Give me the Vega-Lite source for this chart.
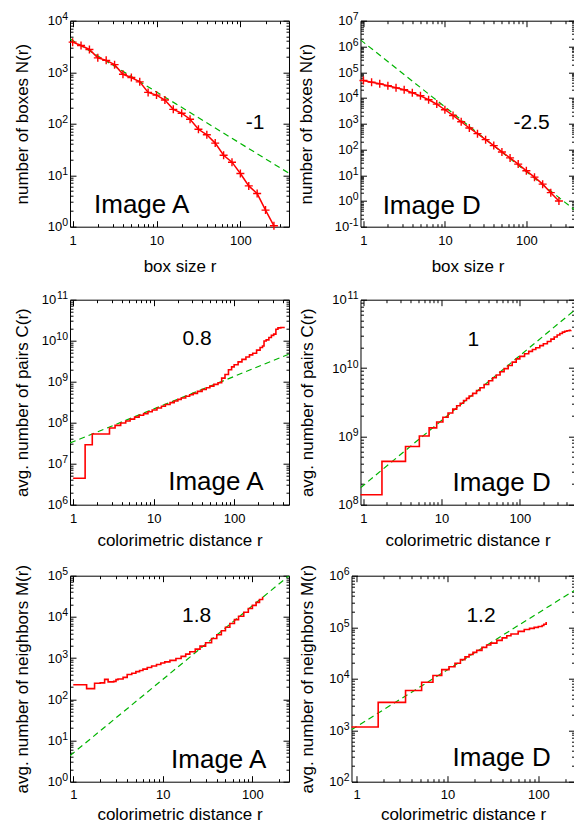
{
  "$schema": "https://vega.github.io/schema/vega-lite/v6.json",
  "background": "white",
  "padding": {"left": 13, "top": 10.7, "right": 0, "bottom": 0},
  "config": {
    "font": "Liberation Sans",
    "view": {"stroke": "black", "strokeWidth": 1},
    "axis": {"domain": false, "grid": false, "labelFontSize": 13, "titleFontSize": 17, "labelColor": "black", "titleColor": "black", "titleFontWeight": "normal", "tickColor": "black", "labelOverlap": false, "labelFlush": false, "labelFont": "Liberation Sans", "titleFont": "Liberation Sans", "titlePadding": 0},
    "text": {"font": "Liberation Sans", "color": "black"}
  },
  "datasets": {
    "p1r": [{"r":1,"v":3830},{"r":1.259,"v":3300},{"r":1.585,"v":2760},{"r":1.995,"v":1900},{"r":2.512,"v":1700},{"r":3.162,"v":1400},{"r":3.981,"v":910},{"r":5.012,"v":790},{"r":6.31,"v":650},{"r":7.943,"v":405},{"r":10,"v":359},{"r":12.59,"v":288},{"r":15.85,"v":190},{"r":19.95,"v":160},{"r":25.12,"v":122},{"r":31.62,"v":78},{"r":39.81,"v":61},{"r":50.12,"v":42},{"r":63.1,"v":24.4},{"r":79.43,"v":17.9},{"r":100,"v":10.8},{"r":125.9,"v":6.2},{"r":158.5,"v":4.4},{"r":199.5,"v":2.1},{"r":251.2,"v":1.04}],
    "p1g": [{"r":0.93,"v":4440},{"r":380,"v":10.9}],
    "p2r": [{"r":1,"v":47900},{"r":1.259,"v":41000},{"r":1.585,"v":35300},{"r":1.995,"v":29700},{"r":2.512,"v":24700},{"r":3.162,"v":20700},{"r":3.981,"v":15900},{"r":5.012,"v":12100},{"r":6.31,"v":8500},{"r":7.943,"v":5780},{"r":10,"v":3480},{"r":12.59,"v":2090},{"r":15.85,"v":1190},{"r":19.95,"v":680},{"r":25.12,"v":410},{"r":31.62,"v":240},{"r":39.81,"v":141},{"r":50.12,"v":80},{"r":63.1,"v":47},{"r":79.43,"v":27},{"r":100,"v":14.8},{"r":125.9,"v":8.4},{"r":158.5,"v":4.5},{"r":199.5,"v":2.1},{"r":251.2,"v":1.0}],
    "p2g": [{"r":0.92,"v":1800000},{"r":390,"v":0.45}],
    "p3r": [{"r":1.0,"v":4.4e6},{"r":1.41,"v":2.9e7},{"r":1.73,"v":5.3e7},{"r":2.83,"v":7.4e7},{"r":3.32,"v":8.6e7},{"r":3.9,"v":9.8e7},{"r":4.5,"v":1.1e8},{"r":5.1,"v":1.22e8},{"r":5.8,"v":1.37e8},{"r":6.6,"v":1.52e8},{"r":7.5,"v":1.66e8},{"r":8.5,"v":1.85e8},{"r":9.6,"v":2.04e8},{"r":11,"v":2.28e8},{"r":12.5,"v":2.52e8},{"r":14,"v":2.77e8},{"r":16,"v":3.08e8},{"r":18,"v":3.38e8},{"r":20,"v":3.7e8},{"r":22,"v":4.0e8},{"r":25,"v":4.4e8},{"r":28,"v":4.8e8},{"r":31,"v":5.2e8},{"r":35,"v":5.8e8},{"r":40,"v":6.45e8},{"r":45,"v":7.1e8},{"r":50,"v":7.8e8},{"r":56,"v":8.6e8},{"r":63,"v":9.4e8},{"r":70,"v":1.22e9},{"r":77,"v":1.5e9},{"r":85,"v":1.95e9},{"r":93,"v":2.3e9},{"r":100,"v":2.6e9},{"r":112,"v":3.05e9},{"r":125,"v":3.5e9},{"r":140,"v":4.0e9},{"r":155,"v":4.5e9},{"r":170,"v":4.95e9},{"r":190,"v":5.9e9},{"r":210,"v":6.8e9},{"r":225,"v":7.4e9},{"r":235,"v":9.8e9},{"r":250,"v":1.05e10},{"r":270,"v":1.2e10},{"r":290,"v":1.35e10},{"r":310,"v":1.45e10},{"r":330,"v":1.9e10},{"r":350,"v":2.05e10},{"r":380,"v":2.1e10},{"r":425,"v":2.1e10}],
    "p3g": [{"r":0.915,"v":3.2e7},{"r":480,"v":4.7e9}],
    "p4r": [{"r":0.92,"v":1.4e8},{"r":1.73,"v":4.3e8},{"r":3.46,"v":7.1e8},{"r":5.2,"v":1.01e9},{"r":6.93,"v":1.33e9},{"r":8.66,"v":1.62e9},{"r":10.4,"v":1.9e9},{"r":12.1,"v":2.2e9},{"r":13.9,"v":2.5e9},{"r":15.6,"v":2.8e9},{"r":17.3,"v":3.05e9},{"r":19.1,"v":3.35e9},{"r":20.8,"v":3.6e9},{"r":22.5,"v":3.9e9},{"r":25,"v":4.25e9},{"r":28,"v":4.7e9},{"r":31,"v":5.15e9},{"r":35,"v":5.75e9},{"r":40,"v":6.5e9},{"r":45,"v":7.2e9},{"r":50,"v":7.9e9},{"r":56,"v":8.8e9},{"r":63,"v":9.8e9},{"r":71,"v":1.09e10},{"r":80,"v":1.22e10},{"r":90,"v":1.36e10},{"r":100,"v":1.48e10},{"r":115,"v":1.62e10},{"r":130,"v":1.75e10},{"r":145,"v":1.87e10},{"r":160,"v":1.98e10},{"r":180,"v":2.13e10},{"r":200,"v":2.27e10},{"r":225,"v":2.45e10},{"r":250,"v":2.65e10},{"r":275,"v":2.85e10},{"r":300,"v":3.05e10},{"r":325,"v":3.2e10},{"r":350,"v":3.35e10},{"r":375,"v":3.45e10},{"r":400,"v":3.52e10},{"r":430,"v":3.56e10},{"r":450,"v":3.57e10}],
    "p4g": [{"r":0.92,"v":1.77e8},{"r":500,"v":7.0e10}],
    "p5r": [{"r":1.0,"v":226},{"r":1.41,"v":181},{"r":1.73,"v":245},{"r":2.0,"v":250},{"r":2.24,"v":305},{"r":2.45,"v":265},{"r":2.83,"v":272},{"r":3.0,"v":300},{"r":3.16,"v":310},{"r":3.6,"v":340},{"r":4.0,"v":400},{"r":4.5,"v":430},{"r":5.0,"v":470},{"r":5.5,"v":500},{"r":6.0,"v":540},{"r":6.7,"v":590},{"r":7.5,"v":640},{"r":8.5,"v":700},{"r":9.5,"v":760},{"r":10.5,"v":810},{"r":12,"v":880},{"r":14,"v":980},{"r":16,"v":1100},{"r":18,"v":1250},{"r":20,"v":1420},{"r":23,"v":1650},{"r":26,"v":1950},{"r":30,"v":2350},{"r":35,"v":3000},{"r":40,"v":3700},{"r":45,"v":4600},{"r":50,"v":5600},{"r":56,"v":6900},{"r":63,"v":8600},{"r":70,"v":10400},{"r":80,"v":13000},{"r":90,"v":16000},{"r":100,"v":19000},{"r":110,"v":22500},{"r":120,"v":26500},{"r":130,"v":31000}],
    "p5g": [{"r":0.92,"v":4.28},{"r":256,"v":100000}],
    "p6r": [{"r":0.88,"v":1150},{"r":1.73,"v":3470},{"r":3.46,"v":5900},{"r":5.2,"v":8500},{"r":6.93,"v":11500},{"r":8.66,"v":15000},{"r":10.4,"v":17000},{"r":12.1,"v":20000},{"r":13.9,"v":23500},{"r":15.6,"v":26500},{"r":17.3,"v":29500},{"r":19.1,"v":32500},{"r":21,"v":35500},{"r":24,"v":40500},{"r":27,"v":45000},{"r":30,"v":49000},{"r":35,"v":55500},{"r":40,"v":62000},{"r":45,"v":68000},{"r":50,"v":74000},{"r":60,"v":83000},{"r":70,"v":90000},{"r":80,"v":95000},{"r":90,"v":99000},{"r":100,"v":103000},{"r":110,"v":108000},{"r":115,"v":114000},{"r":122,"v":126000}],
    "p6g": [{"r":0.88,"v":1020},{"r":250,"v":519000}]
  },
  "vconcat": [
    {
      "hconcat": [
        {
          "width": 219, "height": 206,
          "layer": [
            {"data": {"name": "p1g"}, "mark": {"type": "line", "color": "#00b400", "strokeDash": [6, 4], "strokeWidth": 1.2, "clip": true},
             "encoding": {
              "x": {"field": "r", "type": "quantitative", "scale": {"type": "log", "domain": [0.93, 380], "nice": false},
                    "axis": {"title": "box size r", "orient": "bottom", "values": [1,2,3,4,5,6,7,8,9,10,20,30,40,50,60,70,80,90,100,200,300], "labelExpr": "abs(log(datum.value)/LN10-round(log(datum.value)/LN10))<0.001 ? format(datum.value,'d') : ''", "tickSize": {"condition": {"test": "abs(log(datum.value)/LN10-round(log(datum.value)/LN10))<0.001", "value": -6}, "value": -3}, "labelPadding": 14, "minExtent": 32, "maxExtent": 32}},
              "y": {"field": "v", "type": "quantitative", "scale": {"type": "log", "domain": [1, 10000], "nice": false},
                    "axis": {"title": "number of boxes N(r)", "orient": "left", "values": [1,2,3,4,5,6,7,8,9,10,20,30,40,50,60,70,80,90,100,200,300,400,500,600,700,800,900,1000,2000,3000,4000,5000,6000,7000,8000,9000,10000], "labelExpr": "abs(log(datum.value)/LN10-round(log(datum.value)/LN10))<0.001 ? '10' : ''", "tickSize": {"condition": {"test": "abs(log(datum.value)/LN10-round(log(datum.value)/LN10))<0.001", "value": -6}, "value": -3}, "labelPadding": {"condition": [{"test": "round(log(datum.value)/LN10) >= 10", "value": 20.2}, {"test": "round(log(datum.value)/LN10) < 0", "value": 17.8}], "value": 14.3}, "minExtent": 38.5, "maxExtent": 38.5}}
             }},
            {"data": {"name": "p1r"}, "mark": {"type": "line", "color": "#ff0000", "strokeWidth": 1.5, "point": {"shape": "M-1,0L1,0M0,-1L0,1", "filled": false, "size": 64, "strokeWidth": 1.4, "color": "#ff0000"}},
             "encoding": {
              "x": {"field": "r", "type": "quantitative", "scale": {"type": "log", "domain": [0.93, 380], "nice": false},
                    "axis": {"orient": "top", "title": null, "labels": false, "values": [1,2,3,4,5,6,7,8,9,10,20,30,40,50,60,70,80,90,100,200,300], "tickSize": {"condition": {"test": "abs(log(datum.value)/LN10-round(log(datum.value)/LN10))<0.001", "value": -6}, "value": -3}}},
              "y": {"field": "v", "type": "quantitative", "scale": {"type": "log", "domain": [1, 10000], "nice": false},
                    "axis": {"orient": "right", "title": null, "labels": false, "values": [1,2,3,4,5,6,7,8,9,10,20,30,40,50,60,70,80,90,100,200,300,400,500,600,700,800,900,1000,2000,3000,4000,5000,6000,7000,8000,9000,10000], "tickSize": {"condition": {"test": "abs(log(datum.value)/LN10-round(log(datum.value)/LN10))<0.001", "value": -6}, "value": -3}}}
             }},
            {"data": {"name": "p1g"}, "mark": {"type": "line", "opacity": 0},
             "encoding": {
              "x": {"field": "r", "type": "quantitative", "scale": {"type": "log", "domain": [0.93, 380], "nice": false}, "axis": null},
              "y": {"field": "v", "type": "quantitative", "scale": {"type": "log", "domain": [1, 10000], "nice": false},
                    "axis": {"orient": "left", "title": null, "values": [1,10,100,1000,10000], "labelExpr": "'' + round(log(datum.value)/LN10)", "ticks": false, "tickSize": 0, "labelFontSize": 10.5, "labelAlign": "right", "labelBaseline": "alphabetic", "labelPadding": 2.5, "labelOffset": -1}}
             }},
            {"data": {"values": [{"t": "-1"}]}, "mark": {"type": "text", "fontSize": 21, "align": "center", "baseline": "middle"},
             "encoding": {"text": {"field": "t"}, "x": {"datum": 150, "type": "quantitative", "axis": null}, "y": {"datum": 105, "type": "quantitative", "axis": null}}},
            {"data": {"values": [{"t": "Image A"}]}, "mark": {"type": "text", "fontSize": 26, "align": "center", "baseline": "alphabetic"},
             "encoding": {"text": {"field": "t"}, "x": {"datum": 6.66, "type": "quantitative", "axis": null}, "y": {"datum": 1.81, "type": "quantitative", "axis": null}}}
          ],
          "resolve": {"axis": {"x": "independent", "y": "independent"}}
        },
        {
          "width": 214, "height": 206,
          "layer": [
            {"data": {"name": "p2g"}, "mark": {"type": "line", "color": "#00b400", "strokeDash": [6, 4], "strokeWidth": 1.2, "clip": true},
             "encoding": {
              "x": {"field": "r", "type": "quantitative", "scale": {"type": "log", "domain": [0.92, 390], "nice": false},
                    "axis": {"title": "box size r", "orient": "bottom", "values": [1,2,3,4,5,6,7,8,9,10,20,30,40,50,60,70,80,90,100,200,300], "labelExpr": "abs(log(datum.value)/LN10-round(log(datum.value)/LN10))<0.001 ? format(datum.value,'d') : ''", "tickSize": {"condition": {"test": "abs(log(datum.value)/LN10-round(log(datum.value)/LN10))<0.001", "value": -6}, "value": -3}, "labelPadding": 14, "minExtent": 32, "maxExtent": 32}},
              "y": {"field": "v", "type": "quantitative", "scale": {"type": "log", "domain": [0.1, 10000000], "nice": false},
                    "axis": {"title": "number of boxes N(r)", "orient": "left", "values": [0.1,0.2,0.3,0.4,0.5,0.6,0.7,0.8,0.9,1,2,3,4,5,6,7,8,9,10,20,30,40,50,60,70,80,90,100,200,300,400,500,600,700,800,900,1000,2000,3000,4000,5000,6000,7000,8000,9000,1e4,2e4,3e4,4e4,5e4,6e4,7e4,8e4,9e4,1e5,2e5,3e5,4e5,5e5,6e5,7e5,8e5,9e5,1e6,2e6,3e6,4e6,5e6,6e6,7e6,8e6,9e6,1e7], "labelExpr": "abs(log(datum.value)/LN10-round(log(datum.value)/LN10))<0.001 ? '10' : ''", "tickSize": {"condition": {"test": "abs(log(datum.value)/LN10-round(log(datum.value)/LN10))<0.001", "value": -6}, "value": -3}, "labelPadding": {"condition": [{"test": "round(log(datum.value)/LN10) >= 10", "value": 20.2}, {"test": "round(log(datum.value)/LN10) < 0", "value": 17.8}], "value": 14.3}, "minExtent": 45, "maxExtent": 45}}
             }},
            {"data": {"name": "p2r"}, "mark": {"type": "line", "color": "#ff0000", "strokeWidth": 1.5, "point": {"shape": "M-1,0L1,0M0,-1L0,1", "filled": false, "size": 64, "strokeWidth": 1.4, "color": "#ff0000"}},
             "encoding": {
              "x": {"field": "r", "type": "quantitative", "scale": {"type": "log", "domain": [0.92, 390], "nice": false},
                    "axis": {"orient": "top", "title": null, "labels": false, "values": [1,2,3,4,5,6,7,8,9,10,20,30,40,50,60,70,80,90,100,200,300], "tickSize": {"condition": {"test": "abs(log(datum.value)/LN10-round(log(datum.value)/LN10))<0.001", "value": -6}, "value": -3}}},
              "y": {"field": "v", "type": "quantitative", "scale": {"type": "log", "domain": [0.1, 10000000], "nice": false},
                    "axis": {"orient": "right", "title": null, "labels": false, "values": [0.1,0.2,0.3,0.4,0.5,0.6,0.7,0.8,0.9,1,2,3,4,5,6,7,8,9,10,20,30,40,50,60,70,80,90,100,200,300,400,500,600,700,800,900,1000,2000,3000,4000,5000,6000,7000,8000,9000,1e4,2e4,3e4,4e4,5e4,6e4,7e4,8e4,9e4,1e5,2e5,3e5,4e5,5e5,6e5,7e5,8e5,9e5,1e6,2e6,3e6,4e6,5e6,6e6,7e6,8e6,9e6,1e7], "tickSize": {"condition": {"test": "abs(log(datum.value)/LN10-round(log(datum.value)/LN10))<0.001", "value": -6}, "value": -3}}}
             }},
            {"data": {"name": "p2g"}, "mark": {"type": "line", "opacity": 0},
             "encoding": {
              "x": {"field": "r", "type": "quantitative", "scale": {"type": "log", "domain": [0.92, 390], "nice": false}, "axis": null},
              "y": {"field": "v", "type": "quantitative", "scale": {"type": "log", "domain": [0.1, 10000000], "nice": false},
                    "axis": {"orient": "left", "title": null, "values": [0.1,1,10,100,1000,1e4,1e5,1e6,1e7], "labelExpr": "'' + round(log(datum.value)/LN10)", "ticks": false, "tickSize": 0, "labelFontSize": 10.5, "labelAlign": "right", "labelBaseline": "alphabetic", "labelPadding": 2.5, "labelOffset": -1}}
             }},
            {"data": {"values": [{"t": "-2.5"}]}, "mark": {"type": "text", "fontSize": 21, "align": "center", "baseline": "middle"},
             "encoding": {"text": {"field": "t"}, "x": {"datum": 116, "type": "quantitative", "axis": null}, "y": {"datum": 1070, "type": "quantitative", "axis": null}}},
            {"data": {"values": [{"t": "Image D"}]}, "mark": {"type": "text", "fontSize": 26, "align": "center", "baseline": "alphabetic"},
             "encoding": {"text": {"field": "t"}, "x": {"datum": 6.89, "type": "quantitative", "axis": null}, "y": {"datum": 0.325, "type": "quantitative", "axis": null}}}
          ],
          "resolve": {"axis": {"x": "independent", "y": "independent"}}
        }
      ],
      "spacing": 6.5
    },
    {
      "hconcat": [
        {
          "width": 219, "height": 205,
          "layer": [
            {"data": {"name": "p3g"}, "mark": {"type": "line", "color": "#00b400", "strokeDash": [6, 4], "strokeWidth": 1.2, "clip": true},
             "encoding": {
              "x": {"field": "r", "type": "quantitative", "scale": {"type": "log", "domain": [0.915, 480], "nice": false},
                    "axis": {"title": "colorimetric distance r", "orient": "bottom", "values": [1,2,3,4,5,6,7,8,9,10,20,30,40,50,60,70,80,90,100,200,300,400], "labelExpr": "abs(log(datum.value)/LN10-round(log(datum.value)/LN10))<0.001 ? format(datum.value,'d') : ''", "tickSize": {"condition": {"test": "abs(log(datum.value)/LN10-round(log(datum.value)/LN10))<0.001", "value": -6}, "value": -3}, "labelPadding": 13.5, "minExtent": 28, "maxExtent": 28}},
              "y": {"field": "v", "type": "quantitative", "scale": {"type": "log", "domain": [1e6, 1e11], "nice": false},
                    "axis": {"title": "avg. number of pairs C(r)", "orient": "left", "values": [1e6,2e6,3e6,4e6,5e6,6e6,7e6,8e6,9e6,1e7,2e7,3e7,4e7,5e7,6e7,7e7,8e7,9e7,1e8,2e8,3e8,4e8,5e8,6e8,7e8,8e8,9e8,1e9,2e9,3e9,4e9,5e9,6e9,7e9,8e9,9e9,1e10,2e10,3e10,4e10,5e10,6e10,7e10,8e10,9e10,1e11], "labelExpr": "abs(log(datum.value)/LN10-round(log(datum.value)/LN10))<0.001 ? '10' : ''", "tickSize": {"condition": {"test": "abs(log(datum.value)/LN10-round(log(datum.value)/LN10))<0.001", "value": -6}, "value": -3}, "labelPadding": {"condition": [{"test": "round(log(datum.value)/LN10) >= 10", "value": 20.2}, {"test": "round(log(datum.value)/LN10) < 0", "value": 17.8}], "value": 14.3}, "minExtent": 38.5, "maxExtent": 38.5}}
             }},
            {"data": {"name": "p3r"}, "mark": {"type": "line", "color": "#ff0000", "strokeWidth": 1.6, "interpolate": "step-after"},
             "encoding": {
              "x": {"field": "r", "type": "quantitative", "scale": {"type": "log", "domain": [0.915, 480], "nice": false},
                    "axis": {"orient": "top", "title": null, "labels": false, "values": [1,2,3,4,5,6,7,8,9,10,20,30,40,50,60,70,80,90,100,200,300,400], "tickSize": {"condition": {"test": "abs(log(datum.value)/LN10-round(log(datum.value)/LN10))<0.001", "value": -6}, "value": -3}}},
              "y": {"field": "v", "type": "quantitative", "scale": {"type": "log", "domain": [1e6, 1e11], "nice": false},
                    "axis": {"orient": "right", "title": null, "labels": false, "values": [1e6,2e6,3e6,4e6,5e6,6e6,7e6,8e6,9e6,1e7,2e7,3e7,4e7,5e7,6e7,7e7,8e7,9e7,1e8,2e8,3e8,4e8,5e8,6e8,7e8,8e8,9e8,1e9,2e9,3e9,4e9,5e9,6e9,7e9,8e9,9e9,1e10,2e10,3e10,4e10,5e10,6e10,7e10,8e10,9e10,1e11], "tickSize": {"condition": {"test": "abs(log(datum.value)/LN10-round(log(datum.value)/LN10))<0.001", "value": -6}, "value": -3}}}
             }},
            {"data": {"name": "p3g"}, "mark": {"type": "line", "opacity": 0},
             "encoding": {
              "x": {"field": "r", "type": "quantitative", "scale": {"type": "log", "domain": [0.915, 480], "nice": false}, "axis": null},
              "y": {"field": "v", "type": "quantitative", "scale": {"type": "log", "domain": [1e6, 1e11], "nice": false},
                    "axis": {"orient": "left", "title": null, "values": [1e6,1e7,1e8,1e9,1e10,1e11], "labelExpr": "'' + round(log(datum.value)/LN10)", "ticks": false, "tickSize": 0, "labelFontSize": 10.5, "labelAlign": "right", "labelBaseline": "alphabetic", "labelPadding": 2.5, "labelOffset": -1}}
             }},
            {"data": {"values": [{"t": "0.8"}]}, "mark": {"type": "text", "fontSize": 21, "align": "center", "baseline": "middle"},
             "encoding": {"text": {"field": "t"}, "x": {"datum": 34.7, "type": "quantitative", "axis": null}, "y": {"datum": 1.11e10, "type": "quantitative", "axis": null}}},
            {"data": {"values": [{"t": "Image A"}]}, "mark": {"type": "text", "fontSize": 26, "align": "center", "baseline": "alphabetic"},
             "encoding": {"text": {"field": "t"}, "x": {"datum": 59.3, "type": "quantitative", "axis": null}, "y": {"datum": 2.24e6, "type": "quantitative", "axis": null}}}
          ],
          "resolve": {"axis": {"x": "independent", "y": "independent"}}
        },
        {
          "width": 214, "height": 205,
          "layer": [
            {"data": {"name": "p4g"}, "mark": {"type": "line", "color": "#00b400", "strokeDash": [6, 4], "strokeWidth": 1.2, "clip": true},
             "encoding": {
              "x": {"field": "r", "type": "quantitative", "scale": {"type": "log", "domain": [0.92, 500], "nice": false},
                    "axis": {"title": "colorimetric distance r", "orient": "bottom", "values": [1,2,3,4,5,6,7,8,9,10,20,30,40,50,60,70,80,90,100,200,300,400,500], "labelExpr": "abs(log(datum.value)/LN10-round(log(datum.value)/LN10))<0.001 ? format(datum.value,'d') : ''", "tickSize": {"condition": {"test": "abs(log(datum.value)/LN10-round(log(datum.value)/LN10))<0.001", "value": -6}, "value": -3}, "labelPadding": 13.5, "minExtent": 28, "maxExtent": 28}},
              "y": {"field": "v", "type": "quantitative", "scale": {"type": "log", "domain": [1e8, 1e11], "nice": false},
                    "axis": {"title": "avg. number of pairs C(r)", "orient": "left", "values": [1e8,2e8,3e8,4e8,5e8,6e8,7e8,8e8,9e8,1e9,2e9,3e9,4e9,5e9,6e9,7e9,8e9,9e9,1e10,2e10,3e10,4e10,5e10,6e10,7e10,8e10,9e10,1e11], "labelExpr": "abs(log(datum.value)/LN10-round(log(datum.value)/LN10))<0.001 ? '10' : ''", "tickSize": {"condition": {"test": "abs(log(datum.value)/LN10-round(log(datum.value)/LN10))<0.001", "value": -6}, "value": -3}, "labelPadding": {"condition": [{"test": "round(log(datum.value)/LN10) >= 10", "value": 20.2}, {"test": "round(log(datum.value)/LN10) < 0", "value": 17.8}], "value": 14.3}, "minExtent": 44, "maxExtent": 44}}
             }},
            {"data": {"name": "p4r"}, "mark": {"type": "line", "color": "#ff0000", "strokeWidth": 1.6, "interpolate": "step-after"},
             "encoding": {
              "x": {"field": "r", "type": "quantitative", "scale": {"type": "log", "domain": [0.92, 500], "nice": false},
                    "axis": {"orient": "top", "title": null, "labels": false, "values": [1,2,3,4,5,6,7,8,9,10,20,30,40,50,60,70,80,90,100,200,300,400,500], "tickSize": {"condition": {"test": "abs(log(datum.value)/LN10-round(log(datum.value)/LN10))<0.001", "value": -6}, "value": -3}}},
              "y": {"field": "v", "type": "quantitative", "scale": {"type": "log", "domain": [1e8, 1e11], "nice": false},
                    "axis": {"orient": "right", "title": null, "labels": false, "values": [1e8,2e8,3e8,4e8,5e8,6e8,7e8,8e8,9e8,1e9,2e9,3e9,4e9,5e9,6e9,7e9,8e9,9e9,1e10,2e10,3e10,4e10,5e10,6e10,7e10,8e10,9e10,1e11], "tickSize": {"condition": {"test": "abs(log(datum.value)/LN10-round(log(datum.value)/LN10))<0.001", "value": -6}, "value": -3}}}
             }},
            {"data": {"name": "p4g"}, "mark": {"type": "line", "opacity": 0},
             "encoding": {
              "x": {"field": "r", "type": "quantitative", "scale": {"type": "log", "domain": [0.92, 500], "nice": false}, "axis": null},
              "y": {"field": "v", "type": "quantitative", "scale": {"type": "log", "domain": [1e8, 1e11], "nice": false},
                    "axis": {"orient": "left", "title": null, "values": [1e8,1e9,1e10,1e11], "labelExpr": "'' + round(log(datum.value)/LN10)", "ticks": false, "tickSize": 0, "labelFontSize": 10.5, "labelAlign": "right", "labelBaseline": "alphabetic", "labelPadding": 2.5, "labelOffset": -1}}
             }},
            {"data": {"values": [{"t": "1"}]}, "mark": {"type": "text", "fontSize": 21, "align": "center", "baseline": "middle"},
             "encoding": {"text": {"field": "t"}, "x": {"datum": 25.4, "type": "quantitative", "axis": null}, "y": {"datum": 2.59e10, "type": "quantitative", "axis": null}}},
            {"data": {"values": [{"t": "Image D"}]}, "mark": {"type": "text", "fontSize": 26, "align": "center", "baseline": "alphabetic"},
             "encoding": {"text": {"field": "t"}, "x": {"datum": 58.4, "type": "quantitative", "axis": null}, "y": {"datum": 1.6e8, "type": "quantitative", "axis": null}}}
          ],
          "resolve": {"axis": {"x": "independent", "y": "independent"}}
        }
      ],
      "spacing": 7.5
    },
    {
      "hconcat": [
        {
          "width": 219, "height": 206,
          "layer": [
            {"data": {"name": "p5g"}, "mark": {"type": "line", "color": "#00b400", "strokeDash": [6, 4], "strokeWidth": 1.2, "clip": true},
             "encoding": {
              "x": {"field": "r", "type": "quantitative", "scale": {"type": "log", "domain": [0.92, 256], "nice": false},
                    "axis": {"title": "colorimetric distance r", "orient": "bottom", "values": [1,2,3,4,5,6,7,8,9,10,20,30,40,50,60,70,80,90,100,200], "labelExpr": "abs(log(datum.value)/LN10-round(log(datum.value)/LN10))<0.001 ? format(datum.value,'d') : ''", "tickSize": {"condition": {"test": "abs(log(datum.value)/LN10-round(log(datum.value)/LN10))<0.001", "value": -6}, "value": -3}, "labelPadding": 13, "minExtent": 25, "maxExtent": 25}},
              "y": {"field": "v", "type": "quantitative", "scale": {"type": "log", "domain": [1, 100000], "nice": false},
                    "axis": {"title": "avg. number of neighbors M(r)", "orient": "left", "values": [1,2,3,4,5,6,7,8,9,10,20,30,40,50,60,70,80,90,100,200,300,400,500,600,700,800,900,1000,2000,3000,4000,5000,6000,7000,8000,9000,1e4,2e4,3e4,4e4,5e4,6e4,7e4,8e4,9e4,1e5], "labelExpr": "abs(log(datum.value)/LN10-round(log(datum.value)/LN10))<0.001 ? '10' : ''", "tickSize": {"condition": {"test": "abs(log(datum.value)/LN10-round(log(datum.value)/LN10))<0.001", "value": -6}, "value": -3}, "labelPadding": {"condition": [{"test": "round(log(datum.value)/LN10) >= 10", "value": 20.2}, {"test": "round(log(datum.value)/LN10) < 0", "value": 17.8}], "value": 14.3}, "minExtent": 38.5, "maxExtent": 38.5}}
             }},
            {"data": {"name": "p5r"}, "mark": {"type": "line", "color": "#ff0000", "strokeWidth": 1.6, "interpolate": "step-after"},
             "encoding": {
              "x": {"field": "r", "type": "quantitative", "scale": {"type": "log", "domain": [0.92, 256], "nice": false},
                    "axis": {"orient": "top", "title": null, "labels": false, "values": [1,2,3,4,5,6,7,8,9,10,20,30,40,50,60,70,80,90,100,200], "tickSize": {"condition": {"test": "abs(log(datum.value)/LN10-round(log(datum.value)/LN10))<0.001", "value": -6}, "value": -3}}},
              "y": {"field": "v", "type": "quantitative", "scale": {"type": "log", "domain": [1, 100000], "nice": false},
                    "axis": {"orient": "right", "title": null, "labels": false, "values": [1,2,3,4,5,6,7,8,9,10,20,30,40,50,60,70,80,90,100,200,300,400,500,600,700,800,900,1000,2000,3000,4000,5000,6000,7000,8000,9000,1e4,2e4,3e4,4e4,5e4,6e4,7e4,8e4,9e4,1e5], "tickSize": {"condition": {"test": "abs(log(datum.value)/LN10-round(log(datum.value)/LN10))<0.001", "value": -6}, "value": -3}}}
             }},
            {"data": {"name": "p5g"}, "mark": {"type": "line", "opacity": 0},
             "encoding": {
              "x": {"field": "r", "type": "quantitative", "scale": {"type": "log", "domain": [0.92, 256], "nice": false}, "axis": null},
              "y": {"field": "v", "type": "quantitative", "scale": {"type": "log", "domain": [1, 100000], "nice": false},
                    "axis": {"orient": "left", "title": null, "values": [1,10,100,1000,1e4,1e5], "labelExpr": "'' + round(log(datum.value)/LN10)", "ticks": false, "tickSize": 0, "labelFontSize": 10.5, "labelAlign": "right", "labelBaseline": "alphabetic", "labelPadding": 2.5, "labelOffset": -1}}
             }},
            {"data": {"values": [{"t": "1.8"}]}, "mark": {"type": "text", "fontSize": 21, "align": "center", "baseline": "middle"},
             "encoding": {"text": {"field": "t"}, "x": {"datum": 23.8, "type": "quantitative", "axis": null}, "y": {"datum": 10700, "type": "quantitative", "axis": null}}},
            {"data": {"values": [{"t": "Image A"}]}, "mark": {"type": "text", "fontSize": 26, "align": "center", "baseline": "alphabetic"},
             "encoding": {"text": {"field": "t"}, "x": {"datum": 42.1, "type": "quantitative", "axis": null}, "y": {"datum": 2.15, "type": "quantitative", "axis": null}}}
          ],
          "resolve": {"axis": {"x": "independent", "y": "independent"}}
        },
        {
          "width": 223, "height": 206,
          "layer": [
            {"data": {"name": "p6g"}, "mark": {"type": "line", "color": "#00b400", "strokeDash": [6, 4], "strokeWidth": 1.2, "clip": true},
             "encoding": {
              "x": {"field": "r", "type": "quantitative", "scale": {"type": "log", "domain": [0.88, 250], "nice": false},
                    "axis": {"title": "colorimetric distance r", "orient": "bottom", "values": [1,2,3,4,5,6,7,8,9,10,20,30,40,50,60,70,80,90,100,200], "labelExpr": "abs(log(datum.value)/LN10-round(log(datum.value)/LN10))<0.001 ? format(datum.value,'d') : ''", "tickSize": {"condition": {"test": "abs(log(datum.value)/LN10-round(log(datum.value)/LN10))<0.001", "value": -6}, "value": -3}, "labelPadding": 13, "minExtent": 25, "maxExtent": 25}},
              "y": {"field": "v", "type": "quantitative", "scale": {"type": "log", "domain": [100, 1000000], "nice": false},
                    "axis": {"title": "avg. number of neighbors M(r)", "orient": "left", "values": [100,200,300,400,500,600,700,800,900,1000,2000,3000,4000,5000,6000,7000,8000,9000,1e4,2e4,3e4,4e4,5e4,6e4,7e4,8e4,9e4,1e5,2e5,3e5,4e5,5e5,6e5,7e5,8e5,9e5,1e6], "labelExpr": "abs(log(datum.value)/LN10-round(log(datum.value)/LN10))<0.001 ? '10' : ''", "tickSize": {"condition": {"test": "abs(log(datum.value)/LN10-round(log(datum.value)/LN10))<0.001", "value": -6}, "value": -3}, "labelPadding": {"condition": [{"test": "round(log(datum.value)/LN10) >= 10", "value": 20.2}, {"test": "round(log(datum.value)/LN10) < 0", "value": 17.8}], "value": 14.3}, "minExtent": 35, "maxExtent": 35}}
             }},
            {"data": {"name": "p6r"}, "mark": {"type": "line", "color": "#ff0000", "strokeWidth": 1.6, "interpolate": "step-after"},
             "encoding": {
              "x": {"field": "r", "type": "quantitative", "scale": {"type": "log", "domain": [0.88, 250], "nice": false},
                    "axis": {"orient": "top", "title": null, "labels": false, "values": [1,2,3,4,5,6,7,8,9,10,20,30,40,50,60,70,80,90,100,200], "tickSize": {"condition": {"test": "abs(log(datum.value)/LN10-round(log(datum.value)/LN10))<0.001", "value": -6}, "value": -3}}},
              "y": {"field": "v", "type": "quantitative", "scale": {"type": "log", "domain": [100, 1000000], "nice": false},
                    "axis": {"orient": "right", "title": null, "labels": false, "values": [100,200,300,400,500,600,700,800,900,1000,2000,3000,4000,5000,6000,7000,8000,9000,1e4,2e4,3e4,4e4,5e4,6e4,7e4,8e4,9e4,1e5,2e5,3e5,4e5,5e5,6e5,7e5,8e5,9e5,1e6], "tickSize": {"condition": {"test": "abs(log(datum.value)/LN10-round(log(datum.value)/LN10))<0.001", "value": -6}, "value": -3}}}
             }},
            {"data": {"name": "p6g"}, "mark": {"type": "line", "opacity": 0},
             "encoding": {
              "x": {"field": "r", "type": "quantitative", "scale": {"type": "log", "domain": [0.88, 250], "nice": false}, "axis": null},
              "y": {"field": "v", "type": "quantitative", "scale": {"type": "log", "domain": [100, 1000000], "nice": false},
                    "axis": {"orient": "left", "title": null, "values": [100,1000,1e4,1e5,1e6], "labelExpr": "'' + round(log(datum.value)/LN10)", "ticks": false, "tickSize": 0, "labelFontSize": 10.5, "labelAlign": "right", "labelBaseline": "alphabetic", "labelPadding": 2.5, "labelOffset": -1}}
             }},
            {"data": {"values": [{"t": "1.2"}]}, "mark": {"type": "text", "fontSize": 21, "align": "center", "baseline": "middle"},
             "encoding": {"text": {"field": "t"}, "x": {"datum": 23.4, "type": "quantitative", "axis": null}, "y": {"datum": 167000, "type": "quantitative", "axis": null}}},
            {"data": {"values": [{"t": "Image D"}]}, "mark": {"type": "text", "fontSize": 26, "align": "center", "baseline": "alphabetic"},
             "encoding": {"text": {"field": "t"}, "x": {"datum": 39.5, "type": "quantitative", "axis": null}, "y": {"datum": 200, "type": "quantitative", "axis": null}}}
          ],
          "resolve": {"axis": {"x": "independent", "y": "independent"}}
        }
      ],
      "spacing": 7.5
    }
  ],
  "spacing": 14
}
